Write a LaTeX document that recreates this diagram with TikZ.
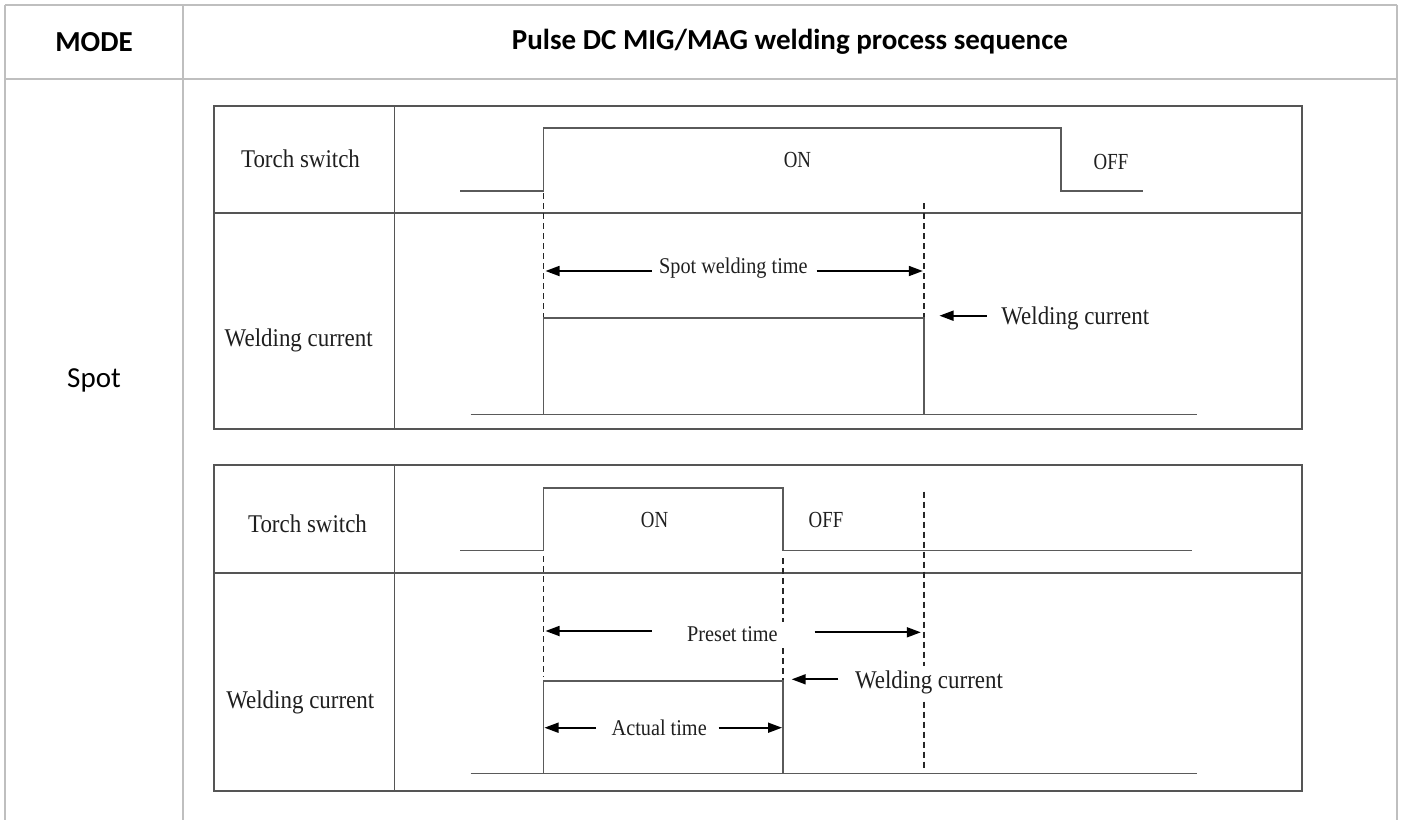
\documentclass[tikz,border=0pt]{standalone}
\usepackage{fontspec}
\setmainfont{Carlito}
\newfontfamily\tnr[FakeStretch=0.9]{Liberation Serif}
\newfontfamily\tnrc[FakeStretch=0.82]{Liberation Serif}
\usetikzlibrary{arrows.meta}
\definecolor{tblgray}{HTML}{BFBFBF}
\definecolor{boxgray}{HTML}{555555}
\definecolor{ln}{HTML}{5A5A5A}
\begin{document}
\begin{tikzpicture}[x=1pt,y=-1pt,
  tbl/.style={draw=tblgray, line width=2.2pt},
  boxln/.style={draw=boxgray, line width=1.8pt},
  wave/.style={draw=ln, line width=1.6pt},
  dsh/.style={draw=black!85, line width=1.8pt, dash pattern=on 6pt off 4pt},
  arr/.style={draw=black, line width=1.7pt, -{Triangle[length=14pt,width=10pt]}},
  hdr/.style={font=\bfseries\fontsize{29}{34}\selectfont, inner sep=0pt},
  lbl/.style={font=\tnr\fontsize{25.5}{28}\selectfont, text=black!88, inner sep=0pt},
  alb/.style={font=\tnr\fontsize{22.5}{26}\selectfont, text=black!88, inner sep=0pt},
  onoff/.style={font=\tnrc\fontsize{23}{26}\selectfont, text=black!88, inner sep=0pt}]
\useasboundingbox (0,0) rectangle (1403,820);
\fill[white] (0,0) rectangle (1403,820);
% outer table
\draw[tbl] (5,4.7) -- (1397,4.7);
\draw[tbl] (5,79) -- (1397,79);
\draw[tbl] (5,4.7) -- (5,820);
\draw[tbl] (183,4.7) -- (183,820);
\draw[tbl] (1397,4.7) -- (1397,820);
\node[hdr] (mode) at (94,42) {MODE};
\node[hdr] (title) at (790,42) {Pulse DC MIG/MAG welding process sequence};
\node[font=\fontsize{29}{34}\selectfont, inner sep=0pt] (spot) at (94,380) {Spot};

% ---------- upper diagram ----------
\draw[boxln] (214.2,106) rectangle (1302,429.3);
\draw[boxln] (394.4,106) -- (394.4,429.3);
\draw[boxln] (214.2,212.7) -- (1302,212.7);
\node[lbl] (uts) at (300.5,159) {Torch switch};
\node[lbl] (uwc) at (298.7,340.7) {Welding current};
\coordinate (u0) at (460,191);
\coordinate (u1) at (543.3,191);
\coordinate (u2) at (543.3,127.7);
\coordinate (u3) at (1060.7,127.7);
\coordinate (u4) at (1060.7,191);
\coordinate (u5) at (1143,191);
\draw[wave] (u0) -- (u1) -- (u2) -- (u3) -- (u4) -- (u5);
\node[onoff] (uon) at (797.4,160) {ON};
\node[onoff] (uoff) at (1111,162) {OFF};
\coordinate (c0) at (470.6,414.3);
\coordinate (c1) at (543.3,414.3);
\coordinate (c2) at (543.3,317.7);
\coordinate (c3) at (924,317.7);
\coordinate (c4) at (924,414.3);
\coordinate (c5) at (1196.7,414.3);
\draw[wave] (c0) -- (c5);
\draw[wave] (c1) -- (c2) -- (c3) -- (c4);
\coordinate (ud1a) at (543.5,193);
\coordinate (ud1b) at (543.5,317);
\coordinate (ud2a) at (924,203);
\coordinate (ud2b) at (924,317);
\draw[dsh] (ud1a) -- (ud1b);
\draw[dsh] (ud2a) -- (ud2b);
\node[alb] (swt) at (733.4,268) {Spot welding time};
\coordinate (sa1) at (651.6,271);
\coordinate (sa2) at (545.5,271);
\coordinate (sb1) at (816.6,271);
\coordinate (sb2) at (922.8,271);
\draw[arr] (sa1) -- (sa2);
\draw[arr] (sb1) -- (sb2);
\coordinate (wa1) at (986.6,315.7);
\coordinate (wa2) at (939.5,315.7);
\draw[arr] (wa1) -- (wa2);
\node[lbl] (uwc2) at (1075.3,318.3) {Welding current};

% ---------- lower diagram ----------
\draw[boxln] (214.2,465) rectangle (1302,790.7);
\draw[boxln] (394.4,465) -- (394.4,790.7);
\draw[boxln] (214.2,572.7) -- (1302,572.7);
\node[lbl] (lts) at (307.5,524) {Torch switch};
\node[lbl] (lwc) at (300.3,702.3) {Welding current};
\coordinate (l0) at (460.2,550.3);
\coordinate (l1) at (543.3,550.3);
\coordinate (l2) at (543.3,487.7);
\coordinate (l3) at (783,487.7);
\coordinate (l4) at (783,550.3);
\coordinate (l5) at (1191.5,550.3);
\draw[wave] (l0) -- (l1) -- (l2) -- (l3) -- (l4) -- (l5);
\node[onoff] (lon) at (654.6,520) {ON};
\node[onoff] (loff) at (826,520) {OFF};
\coordinate (d0) at (470.6,773.3);
\coordinate (d1) at (543.3,773.3);
\coordinate (d2) at (543.3,680.7);
\coordinate (d3) at (783,680.7);
\coordinate (d4) at (783,773.3);
\coordinate (d5) at (1197,773.3);
\draw[wave] (d0) -- (d5);
\draw[wave] (d1) -- (d2) -- (d3) -- (d4);
\coordinate (ld1a) at (543.5,556);
\coordinate (ld1b) at (543.5,676.7);
\coordinate (ld2a) at (783,558);
\coordinate (ld2b) at (783,680);
\coordinate (ld3a) at (923.7,491.7);
\coordinate (ld3b) at (923.7,770);
\draw[dsh] (ld1a) -- (ld1b);
\draw[dsh] (ld2a) -- (ld2b);
\draw[dsh] (ld3a) -- (ld3b);
\node[alb, fill=white, inner xsep=7pt, inner ysep=4pt] (pt) at (732.4,634) {Preset time};
\coordinate (pa1) at (651.6,631);
\coordinate (pa2) at (545.5,631);
\coordinate (pb1) at (814.6,632.3);
\coordinate (pb2) at (920.8,632.3);
\draw[arr] (pa1) -- (pa2);
\draw[arr] (pb1) -- (pb2);
\coordinate (la1) at (838.3,679.3);
\coordinate (la2) at (791.7,679.3);
\draw[arr] (la1) -- (la2);
\node[lbl, fill=white, inner xsep=1pt, inner ysep=5pt] (lwc2) at (929,682.3) {Welding current};
\node[alb] (at) at (659.2,727.7) {Actual time};
\coordinate (aa1) at (596,727.7);
\coordinate (aa2) at (544.5,727.7);
\coordinate (ab1) at (718.5,727.7);
\coordinate (ab2) at (782,727.7);
\draw[arr] (aa1) -- (aa2);
\draw[arr] (ab1) -- (ab2);
\end{tikzpicture}
\end{document}
